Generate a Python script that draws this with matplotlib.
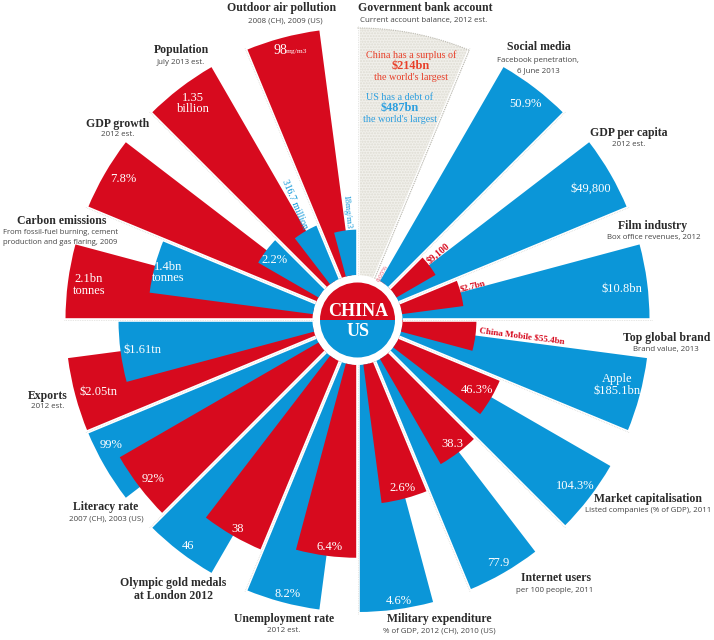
import numpy as np
import matplotlib
matplotlib.use("Agg")
import matplotlib.pyplot as plt
from matplotlib.patches import Wedge

# ---- data: one entry per spoke, clockwise from 12 o'clock ----
topics = ["Government bank account", "Social media", "GDP per capita", "Film industry",
          "Top global brand", "Market capitalisation", "Internet users", "Military expenditure",
          "Unemployment rate", "Olympic gold medals", "Literacy rate", "Exports",
          "Carbon emissions", "GDP growth", "Population", "Outdoor air pollution"]
china_values = [214, 0.05, 9100, 2.7, 55.4, 46.3, 38.3, 2.6, 6.4, 38, 92, 2.05, 2.1, 7.8, 1350, 98]
us_values = [487, 50.9, 49800, 10.8, 185.1, 104.3, 77.9, 4.6, 8.2, 46, 99, 1.61, 1.4, 2.2, 316.7, 18]
dotted_spoke = "Government bank account"

RED = "#D70A1E"
BLUE = "#0B96D8"
W, H = 714, 640
CX, CY = 357.5, 320.0
R_INNER, R_OUTER = 45.0, 292.0
SERIF = ["Liberation Serif", "DejaVu Serif"]
SANS = ["Open Sans", "DejaVu Sans"]

fig = plt.figure(figsize=(W / 100, H / 100), dpi=100, facecolor="white")

# polar axes: radius 0..1 is each spoke's own scale (largest value = 1)
ax = fig.add_axes([(CX - R_OUTER) / W, 1 - (CY + R_OUTER) / H, 2 * R_OUTER / W, 2 * R_OUTER / H],
                  projection="polar")
ax.set_theta_zero_location("N")
ax.set_theta_direction(-1)
ax.set_rorigin(-R_INNER / (R_OUTER - R_INNER))
ax.set_rlim(0, 1)
ax.axis("off")

step = np.deg2rad(22.5)
wid = np.deg2rad(15)
off = np.deg2rad(7.5)
for i, (t, c, u) in enumerate(zip(topics, china_values, us_values)):
    a = i * step
    top = max(c, u)
    if t == dotted_spoke:
        ax.bar(a, 1, width=step, bottom=0, align="edge", facecolor="#F1F0EB", edgecolor="#DEDCD3",
               hatch="......", linewidth=0, clip_on=False, zorder=2)
        ax.plot([a + step, a + step], [0, 1], color="#BDBBB2", lw=0.8, ls=(0, (1, 1)), zorder=6, clip_on=False)
        th = np.linspace(a, a + step, 30)
        ax.plot(th, np.ones_like(th), color="#BDBBB2", lw=0.8, ls=(0, (1, 1)), zorder=6, clip_on=False)
        continue
    bars = [(a, c / top, RED), (a + off, u / top, BLUE)]
    bars.sort(key=lambda b: -b[1])
    for z, (start, h, col) in enumerate(bars):
        ax.bar(start, h, width=wid, bottom=0, align="edge", color=col, linewidth=0,
               clip_on=False, zorder=2 + z)

# white separators between spokes
for i in range(len(topics)):
    a = i * step
    ax.plot([a, a], [0, 1.01], color="white", lw=2.6, solid_capstyle="butt", zorder=5, clip_on=False)
    ax.plot([a, a], [0, 1.01], color="#CFCFCA", lw=0.5, ls=(0, (1, 1.5)), zorder=5.5, clip_on=False)

# overlay in pixel coordinates for the hub and the text
ov = fig.add_axes([0, 0, 1, 1])
ov.set_xlim(0, W)
ov.set_ylim(H, 0)
ov.axis("off")
ov.patch.set_alpha(0)
ov.add_patch(Wedge((CX, CY), 37.5, 180, 360, color=RED, lw=0))
ov.add_patch(Wedge((CX, CY), 37.5, 0, 180, color=BLUE, lw=0))


def txt(x, y, s, size=7.5, color="white", fam=SERIF, weight="normal", ha="center", rot=0, **kw):
    ov.text(x, y, s, fontsize=size, color=color, family=fam, weight=weight, ha=ha, va="center",
            rotation=rot, rotation_mode="anchor", **kw)


txt(358, 311, "CHINA", 13, weight="bold")
txt(358, 332, "US", 13, weight="bold")

# spoke headings
heads = [
    (282, 8, "Outdoor air pollution"), (425, 8, "Government bank account"),
    (539, 47, "Social media"), (629, 133, "GDP per capita"), (653, 226, "Film industry"),
    (667, 338, "Top global brand"), (648, 499, "Market capitalisation"), (556, 578, "Internet users"),
    (439, 619, "Military expenditure"), (284, 619, "Unemployment rate"),
    (173, 583, "Olympic gold medals"), (173, 596, "at London 2012"), (106, 507, "Literacy rate"),
    (48, 396, "Exports"), (62, 221, "Carbon emissions"), (118, 124, "GDP growth"), (181, 50, "Population"),
]
for x, y, s in heads:
    txt(x, y, s, 8.5, color="#2b2b2b", weight="bold")

subs = [
    (285, 21, "2008 (CH), 2009 (US)"), (424, 20.5, "Current account balance, 2012 est."),
    (538, 60, "Facebook penetration,"), (538, 71, "6 June 2013"), (629, 145, "2012 est."),
    (654, 237, "Box office revenues, 2012"), (666, 350, "Brand value, 2013"),
    (648, 510, "Listed companies (% of GDP), 2011"), (555, 590, "per 100 people, 2011"),
    (439, 631, "% of GDP, 2012 (CH), 2010 (US)"), (284, 631, "2012 est."),
    (106, 519, "2007 (CH), 2003 (US)"), (48, 407, "2012 est."), (118, 135, "2012 est."),
    (181, 62, "July 2013 est."),
]
for x, y, s in subs:
    txt(x, y, s, 5.7, color="#444444", fam=SANS)
txt(3, 232, "From fossil-fuel burning, cement", 5.5, color="#444444", fam=SANS, ha="left")
txt(3, 243, "production and gas flaring, 2009", 5.5, color="#444444", fam=SANS, ha="left")

# values inside the spokes
vals = [
    (193, 98, "1.35"), (193, 109, "billion"), (123, 179, "7.8%"), (89, 279, "2.1bn"), (89, 291, "tonnes"),
    (168, 267, "1.4bn"), (168, 278, "tonnes"), (275, 260, "2.2%"), (525, 104, "50.9%"), (591, 189, "$49,800"),
    (622, 289, "$10.8bn"), (617, 379, "Apple"), (617, 391, "$185.1bn"), (477, 390, "46.3%"), (575, 486, "104.3%"),
    (452, 444, "38.3"), (498, 563, "77.9"), (403, 488, "2.6%"), (399, 601, "4.6%"), (330, 547, "6.4%"),
    (288, 594, "8.2%"), (238, 529, "38"), (188, 546, "46"), (153, 479, "92%"), (111, 445, "99%"),
    (99, 392, "$2.05tn"), (143, 350, "$1.61tn"),
]
for x, y, s in vals:
    txt(x, y, s, 9)
txt(273, 51, "98", 10, ha="left")
txt(286, 52, "mg/m3", 5.4, ha="left")

# values running along the spokes
txt(295, 204, "316.7 million", 7, color=BLUE, rot=-67)
txt(347, 212, "18mg/m3", 6.5, color=BLUE, rot=-85)
txt(438, 253, "$9,100", 7, color=RED, weight="bold", rot=40)
txt(473, 286, "$2.7bn", 6.6, color=RED, weight="bold", rot=15)
txt(522, 336, "China Mobile $55.4bn", 6.6, color=RED, weight="bold", rot=-7.5)
txt(383, 273, "0.05%", 5, color="#E0506A", rot=62)

# current account note
ORANGE = "#E8402A"
SKY = "#2E9FDF"
txt(411, 55, "China has a surplus of", 7.3, color=ORANGE)
txt(411, 66, "$214bn", 8.8, color=ORANGE, weight="bold")
txt(411, 77, "the world's largest", 7.3, color=ORANGE)
txt(400, 97, "US has a debt of", 7.3, color=SKY)
txt(400, 108, "$487bn", 8.8, color=SKY, weight="bold")
txt(400, 119, "the world's largest", 7.3, color=SKY)

fig.savefig("out.png", dpi=100)
